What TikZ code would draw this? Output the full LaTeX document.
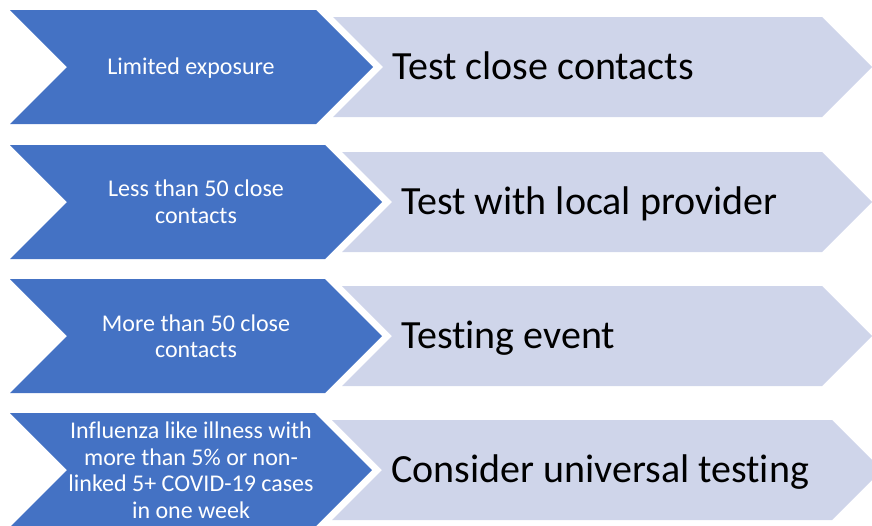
\documentclass[tikz,border=0pt]{standalone}
\usepackage{fontspec}
\setmainfont{Carlito}[Ligatures=NoCommon]
\definecolor{darkcol}{RGB}{68,114,196}
\definecolor{lightcol}{RGB}{207,213,234}
\tikzset{
  darkarrow/.style={fill=darkcol},
  lightarrow/.style={fill=lightcol},
  cond/.style={
    font={\fontsize{24}{26.5}\selectfont\color{white}},
    align=center,
    inner sep=0pt
  },
  action/.style={
    font={\fontsize{40}{48}\selectfont},
    anchor=base west,
    inner sep=0pt
  },
}

\begin{document}
\begin{tikzpicture}[x=1pt,y=-1pt]
  \clip (0,0) rectangle (872,525);

  \foreach \row/\mid/\tip/\rgt in {1/67/373/822, 2/202/382/822, 3/336/382/822, 4/470/372/832} {
    \fill[darkarrow] (10,\mid-57) -- (\tip-57,\mid-57) -- (\tip,\mid)
      -- (\tip-57,\mid+57) -- (10,\mid+57) -- (67,\mid) -- cycle;
    \fill[lightarrow] (\tip-40,\mid-50) -- (\rgt,\mid-50) -- (\rgt+50,\mid)
      -- (\rgt,\mid+50) -- (\tip-40,\mid+50) -- (\tip+10,\mid) -- cycle;
  }

  \node[cond] (cond1) at (191,68) {Limited exposure};
  \node[cond] (cond2) at (196,202) {Less than 50 close\\contacts};
  \node[cond] (cond3) at (196,336) {More than 50 close\\contacts};
  \node[cond] (cond4) at (191,470) {Influenza like illness with\\more than 5\% or non-\\linked 5+ COVID-19 cases\\in one week};

  \node[action] (act1) at (392,79.5) {Test close contacts};
  \node[action] (act2) at (401,214.5) {Test with local provider};
  \node[action] (act3) at (401,348.5) {Testing event};
  \node[action] (act4) at (391,482.5) {Consider universal testing};
\end{tikzpicture}
\end{document}
